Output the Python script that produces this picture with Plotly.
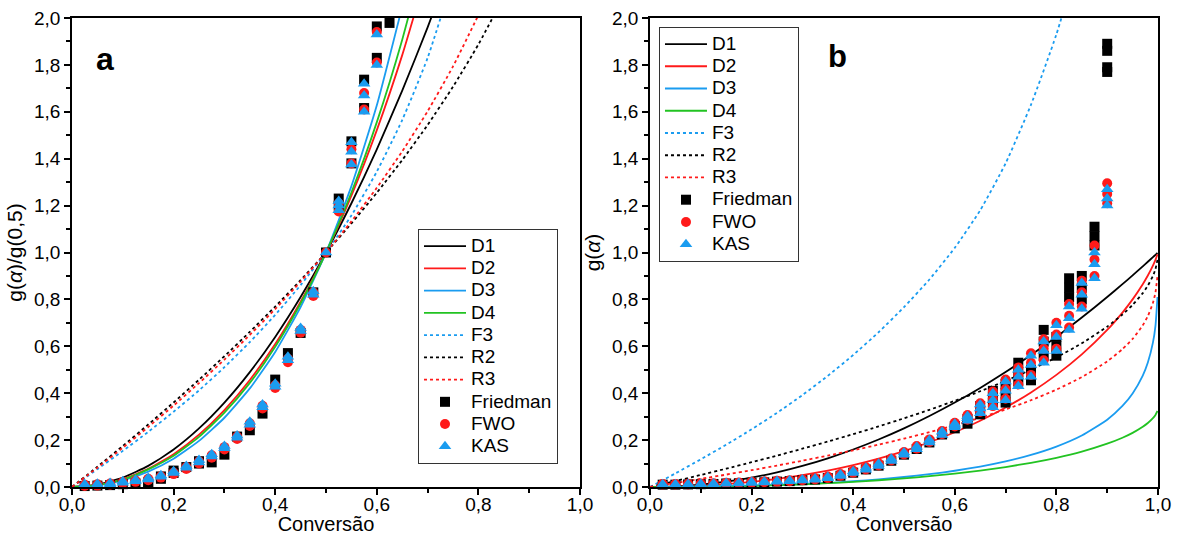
import plotly.graph_objects as go

# ---------------- data: panel a (normalised g(a)/g(0.5)) ----------------
alpha_grid_a = [0.0, 0.05, 0.1, 0.15, 0.2, 0.25, 0.3, 0.35, 0.4, 0.45, 0.5,
                0.55, 0.6, 0.65, 0.7, 0.75, 0.8, 0.85]
d1_a = [0, 0.01, 0.04, 0.09, 0.16, 0.25, 0.36, 0.49, 0.64, 0.81, 1.0, 1.21, 1.44, 1.69, 1.96, 2.25]
d2_a = [0, 0.0083, 0.0338, 0.0773, 0.1401, 0.2232, 0.3280, 0.4563, 0.6094, 0.7899, 1.0, 1.2427, 1.5217, 1.8416, 2.2082]
d3_a = [0, 0.0067, 0.0280, 0.0654, 0.1207, 0.1965, 0.2953, 0.4204, 0.5760, 0.7670, 1.0, 1.2832, 1.6276, 2.0485]
d4_a = [0, 0.0076, 0.0317, 0.0751, 0.1332, 0.2139, 0.3169, 0.4439, 0.5982, 0.7823, 1.0, 1.2559, 1.5559, 1.9076, 2.3210]
f3_a = [0, 0.076, 0.154, 0.235, 0.321, 0.412, 0.511, 0.618, 0.734, 0.861, 1.0, 1.158, 1.345, 1.565, 1.83, 2.17]
r2_a = [0, 0.0865, 0.1752, 0.2665, 0.3605, 0.4574, 0.5577, 0.6616, 0.7696, 0.8822, 1.0, 1.1239, 1.2549, 1.3943, 1.5442, 1.7071, 1.8873, 2.0919]
r3_a = [0, 0.0822, 0.1673, 0.2558, 0.3475, 0.4432, 0.5434, 0.6484, 0.7589, 0.8758, 1.0, 1.1328, 1.2758, 1.4313, 1.6024, 1.7937, 2.0126]

alpha_pts_a = [0.025, 0.05, 0.075, 0.1, 0.125, 0.15, 0.175, 0.2, 0.225, 0.25, 0.275, 0.3,
               0.325, 0.35, 0.375, 0.4, 0.425, 0.45, 0.475, 0.5, 0.525, 0.55, 0.575, 0.6]
kas_a = [[0.006, 0.012], [0.008, 0.014], [0.012, 0.017], [0.018, 0.024], [0.025, 0.031],
         [0.032, 0.038], [0.044, 0.05], [0.06, 0.067], [0.082, 0.09], [0.105, 0.115],
         [0.13, 0.14], [0.165, 0.175], [0.21, 0.22], [0.265, 0.278], [0.34, 0.352],
         [0.428, 0.44], [0.54, 0.555], [0.665, 0.678], [0.82, 0.835], [1.0],
         [1.18, 1.2, 1.22], [1.375, 1.43, 1.47], [1.6, 1.67, 1.72], [1.8, 1.93]]
fwo_a = [[0.004, 0.01], [0.006, 0.012], [0.01, 0.015], [0.015, 0.021], [0.022, 0.028],
         [0.029, 0.035], [0.04, 0.046], [0.055, 0.062], [0.077, 0.085], [0.1, 0.11],
         [0.125, 0.135], [0.16, 0.17], [0.205, 0.215], [0.26, 0.272], [0.335, 0.346],
         [0.422, 0.434], [0.532, 0.547], [0.658, 0.67], [0.815, 0.83], [1.0],
         [1.175, 1.21], [1.38, 1.44], [1.61, 1.68], [1.81, 1.94]]
alpha_fried_a = alpha_pts_a + [0.625]
fried_a = [[0.004], [0.006], [0.008], [0.012], [0.015], [0.013, 0.02], [0.035, 0.045],
           [0.06, 0.07], [0.085], [0.1, 0.11], [0.105], [0.138], [0.215], [0.242],
           [0.313], [0.458], [0.571], [0.657], [0.83], [1.0], [1.2, 1.23], [1.38, 1.474],
           [1.616, 1.737], [1.83, 1.964], [1.979]]

# ---------------- data: panel b (g(a)) ----------------
alpha_grid_b = [0.0, 0.05, 0.1, 0.15, 0.2, 0.25, 0.3, 0.35, 0.4, 0.45, 0.5, 0.55, 0.6,
                0.65, 0.7, 0.75, 0.8, 0.85, 0.9, 0.93, 0.95, 0.97, 0.98, 0.99, 0.995, 0.999]
d1_b = [0, 0.0025, 0.01, 0.0225, 0.04, 0.0625, 0.09, 0.1225, 0.16, 0.2025, 0.25, 0.3025, 0.36,
        0.4225, 0.49, 0.5625, 0.64, 0.7225, 0.81, 0.8649, 0.9025, 0.9409, 0.9604, 0.9801, 0.990, 0.998]
d2_b = [0, 0.0013, 0.0052, 0.0119, 0.0215, 0.0342, 0.0503, 0.0700, 0.0935, 0.1212, 0.1534, 0.1907,
        0.2335, 0.2826, 0.3388, 0.4034, 0.4781, 0.5654, 0.6697, 0.7439, 0.8002, 0.8648, 0.9018,
        0.9439, 0.9685, 0.9921]
d3_b = [0, 0.0003, 0.0012, 0.0028, 0.0051, 0.0084, 0.0126, 0.0179, 0.0245, 0.0326, 0.0426, 0.0546,
        0.0693, 0.0872, 0.1093, 0.1369, 0.1724, 0.2197, 0.2871, 0.3456, 0.3989, 0.4751, 0.5308,
        0.6155, 0.6872, 0.81]
d4_b = [0, 0.0003, 0.0012, 0.0028, 0.0049, 0.0079, 0.0116, 0.0163, 0.0220, 0.0287, 0.0367, 0.0461,
        0.0571, 0.0700, 0.0852, 0.1032, 0.1247, 0.1510, 0.1846, 0.2101, 0.2309, 0.2568, 0.2730,
        0.2936, 0.3074, 0.324]
f3_b = [0, 0.058, 0.118, 0.18, 0.246, 0.316, 0.392, 0.474, 0.563, 0.66, 0.767, 0.885, 1.02, 1.18,
        1.38, 1.63, 1.93, 2.3]
r2_b = [0, 0.0253, 0.0513, 0.0780, 0.1056, 0.1340, 0.1633, 0.1938, 0.2254, 0.2584, 0.2929, 0.3292,
        0.3675, 0.4084, 0.4523, 0.5, 0.5528, 0.6127, 0.6838, 0.7354, 0.7764, 0.8268, 0.8586, 0.9,
        0.9293, 0.9684]
r3_b = [0, 0.0170, 0.0345, 0.0528, 0.0717, 0.0914, 0.1121, 0.1338, 0.1566, 0.1807, 0.2063, 0.2337,
        0.2632, 0.2953, 0.3306, 0.3700, 0.4152, 0.4687, 0.5358, 0.5879, 0.6316, 0.6893, 0.7286,
        0.7846, 0.829, 0.9]

alpha_pts_b = [0.025, 0.05, 0.075, 0.1, 0.125, 0.15, 0.175, 0.2, 0.225, 0.25, 0.275, 0.3,
               0.325, 0.35, 0.375, 0.4, 0.425, 0.45, 0.475, 0.5, 0.525, 0.55, 0.575, 0.6,
               0.625, 0.65, 0.675, 0.7, 0.725, 0.75, 0.775, 0.8, 0.825, 0.85, 0.875, 0.9]
kas_b = [[0.010, 0.012], [0.010, 0.012], [0.010, 0.013], [0.011, 0.014], [0.012, 0.015],
         [0.014, 0.017], [0.015, 0.018], [0.017, 0.021], [0.019, 0.023], [0.022, 0.026],
         [0.024, 0.028], [0.028, 0.032], [0.031, 0.036], [0.037, 0.043], [0.047, 0.053],
         [0.06, 0.067], [0.074, 0.082], [0.09, 0.099], [0.111, 0.12], [0.137, 0.147],
         [0.161, 0.172], [0.19, 0.2], [0.222, 0.236], [0.255, 0.262, 0.27],
         [0.283, 0.293, 0.303], [0.315, 0.335, 0.352], [0.34, 0.37, 0.4], [0.37, 0.41, 0.45],
         [0.43, 0.47, 0.5], [0.47, 0.52, 0.56], [0.53, 0.58, 0.62], [0.58, 0.64, 0.69],
         [0.67, 0.72, 0.77], [0.76, 0.82, 0.87], [0.89, 0.95, 1.0], [1.2, 1.23, 1.27]]
fwo_b = [[0.011, 0.013], [0.011, 0.013], [0.011, 0.014], [0.012, 0.015], [0.013, 0.016],
         [0.015, 0.018], [0.016, 0.019], [0.018, 0.022], [0.020, 0.024], [0.023, 0.027],
         [0.025, 0.029], [0.029, 0.033], [0.032, 0.037], [0.038, 0.045], [0.048, 0.055],
         [0.061, 0.069], [0.075, 0.084], [0.092, 0.101], [0.113, 0.122], [0.139, 0.149],
         [0.163, 0.175], [0.192, 0.203], [0.225, 0.239], [0.258, 0.266, 0.274],
         [0.287, 0.297, 0.307], [0.32, 0.34, 0.357], [0.345, 0.376, 0.407], [0.376, 0.418, 0.458],
         [0.437, 0.478, 0.51], [0.478, 0.53, 0.57], [0.54, 0.59, 0.63], [0.59, 0.65, 0.70],
         [0.68, 0.73, 0.78], [0.77, 0.83, 0.88], [0.9, 0.97, 1.03], [1.21, 1.25, 1.295]]
fried_b = [[0.010], [0.010], [0.011], [0.012], [0.013], [0.015], [0.016], [0.018], [0.020],
           [0.023], [0.025], [0.029], [0.032], [0.038], [0.048], [0.061], [0.075], [0.091],
           [0.112], [0.138], [0.162], [0.19], [0.224], [0.25, 0.26], [0.27, 0.29], [0.31, 0.345],
           [0.36, 0.385, 0.41], [0.36, 0.4, 0.44], [0.45, 0.49, 0.53], [0.455, 0.47, 0.5],
           [0.56, 0.62, 0.67], [0.56, 0.6, 0.64], [0.81, 0.85, 0.89], [0.8, 0.85, 0.9],
           [1.03, 1.07, 1.11], [1.77, 1.79, 1.86, 1.89]]

model_names = ["D1", "D2", "D3", "D4", "F3", "R2", "R3"]
model_colors = ["#000000", "#ff1a1a", "#1a9cf0", "#22c322", "#1a9cf0", "#000000", "#ff1a1a"]
model_dash = ["solid", "solid", "solid", "solid", "3px,3px", "3px,3px", "3px,3px"]
models_a = [d1_a, d2_a, d3_a, d4_a, f3_a, r2_a, r3_a]
models_b = [d1_b, d2_b, d3_b, d4_b, f3_b, r2_b, r3_b]

LEGEND_TEXT = "<span style='font-size:19px'>{}</span>"


def flatten(alphas, groups):
    xs, ys = [], []
    for a, vals in zip(alphas, groups):
        for v in vals:
            xs.append(a)
            ys.append(v)
    return xs, ys


fig = go.Figure()


def add_panel(xref, yref, legend, grid, models, pts):
    for name, col, dash, vals in zip(model_names, model_colors, model_dash, models):
        fig.add_trace(go.Scatter(
            x=grid[:len(vals)], y=vals, mode="lines", name=LEGEND_TEXT.format(name),
            line=dict(color=col, width=1.8, dash=dash, shape="spline", smoothing=0.5),
            xaxis=xref, yaxis=yref, legend=legend))
    for (name, sym, col, size, a_list, groups) in pts:
        xs, ys = flatten(a_list, groups)
        fig.add_trace(go.Scatter(
            x=xs, y=ys, mode="markers", name=LEGEND_TEXT.format(name), cliponaxis=False,
            marker=dict(symbol=sym, color=col, size=size, line=dict(width=0)),
            xaxis=xref, yaxis=yref, legend=legend))


add_panel("x", "y", "legend", alpha_grid_a, models_a,
          [("Friedman", "square", "#000000", 10, alpha_fried_a, fried_a),
           ("FWO", "circle", "#ff1a1a", 10, alpha_pts_a, fwo_a),
           ("KAS", "triangle-up", "#1a9cf0", 11, alpha_pts_a, kas_a)])
add_panel("x2", "y2", "legend2", alpha_grid_b, models_b,
          [("Friedman", "square", "#000000", 10, alpha_pts_b, fried_b),
           ("FWO", "circle", "#ff1a1a", 10, alpha_pts_b, fwo_b),
           ("KAS", "triangle-up", "#1a9cf0", 11, alpha_pts_b, kas_b)])

font_family = "Liberation Sans, Arial, sans-serif"
axis_common = dict(
    showgrid=False, zeroline=False, linecolor="black", linewidth=1.5, mirror=True,
    ticks="outside", ticklen=6, tickwidth=1.5, tickcolor="black", automargin=False,
    tickformat=".1f", tickfont=dict(size=19, color="black", family=font_family),
    minor=dict(ticks="outside", ticklen=4, tickwidth=1.5, tickcolor="black", dtick=0.1),
)
xa = dict(axis_common, range=[0, 1], dtick=0.2, tick0=0, ticklabelstandoff=-7,
          title=dict(text="Conversão", font=dict(size=20, color="black", family=font_family), standoff=0))
ya = dict(axis_common, range=[0, 2], dtick=0.2, tick0=0)

legend_common = dict(
    bgcolor="white", bordercolor="#333333", borderwidth=1,
    font=dict(size=14.8, color="black", family=font_family),
    itemwidth=42, tracegroupgap=0,
)

fig.update_layout(
    width=1177, height=535,
    margin=dict(l=72, r=19, t=18, b=48, autoexpand=False),
    paper_bgcolor="white", plot_bgcolor="white",
    separators=",.",
    font=dict(family=font_family, color="black"),
    xaxis=dict(xa, domain=[0, 0.4678], anchor="y"),
    yaxis=dict(ya, anchor="x",
               title=dict(text="g(<i>α</i>)/g(0,5)", font=dict(size=21), standoff=6)),
    xaxis2=dict(xa, domain=[0.5322, 1], anchor="y2"),
    yaxis2=dict(ya, anchor="x2",
                title=dict(text="g(<i>α</i>)", font=dict(size=21), standoff=6)),
    legend=dict(legend_common, x=0.3186, y=0.049, xanchor="left", yanchor="bottom"),
    legend2=dict(legend_common, x=0.5405, y=0.981, xanchor="left", yanchor="top"),
    annotations=[
        dict(text="<b>a</b>", x=0.0304, y=0.913, xref="paper", yref="paper",
             xanchor="center", yanchor="middle",
             showarrow=False, font=dict(size=32, color="black", family=font_family)),
        dict(text="<b>b</b>", x=0.7053, y=0.917, xref="paper", yref="paper",
             xanchor="center", yanchor="middle",
             showarrow=False, font=dict(size=31, color="black", family=font_family)),
    ],
)

fig.write_html("out.html", config={"displayModeBar": False},
               post_script="document.body.style.margin='0';document.body.style.padding='0';")
